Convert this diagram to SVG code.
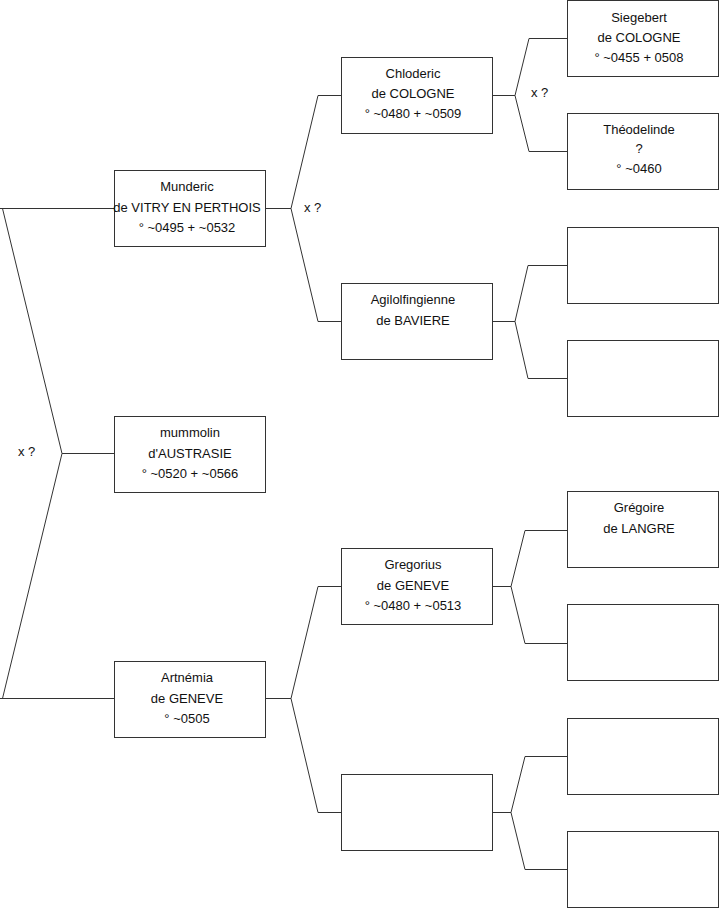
<svg xmlns="http://www.w3.org/2000/svg" width="719" height="908" viewBox="0 0 719 908">
<style>
.box{fill:#fff;stroke:#333;stroke-width:1}
.ln{fill:none;stroke:#333;stroke-width:1}
text{font-family:"Liberation Sans",Arial,sans-serif;font-size:13px;fill:#111}
.c{text-anchor:middle}
</style>
<rect width="719" height="908" fill="#fff"/>
<g id="connectors">
<path class="ln" d="M0,208.5H114 M2.5,208.5L62,453.5L2.5,698.5 M62,453.5H114 M0,698.5H114"/>
<path class="ln" d="M265,208.5H291 M341,95.5H318L291,208.5L318,321.5H341"/>
<path class="ln" d="M265,698.5H291 M341,586.5H318L291,698.5L318,812.5H341"/>
<path class="ln" d="M492,95.5H515 M567,38.5H529L515,95.5L529,151.5H567"/>
<path class="ln" d="M492,321.5H515 M567,265.5H528L515,321.5L528,378.5H567"/>
<path class="ln" d="M492,586.5H511 M567,530.5H525L511,586.5L525,643.5H567"/>
<path class="ln" d="M492,812.5H511 M567,756.5H525L511,812.5L525,869.5H567"/>
<text x="18" y="455.5">x ?</text>
<text x="304" y="211.5">x ?</text>
<text x="531" y="96.5">x ?</text>
</g>
<g id="munderic"><rect class="box" x="114.5" y="170.5" width="151" height="76"/>
<text class="c" x="187" y="191">Munderic</text><text class="c" x="187" y="211.5">de VITRY EN PERTHOIS</text><text class="c" x="187" y="232">° ~0495 + ~0532</text></g>
<g id="mummolin"><rect class="box" x="114.5" y="416.5" width="151" height="76"/>
<text class="c" x="190" y="437">mummolin</text><text class="c" x="190" y="457.5">d'AUSTRASIE</text><text class="c" x="190" y="478">° ~0520 + ~0566</text></g>
<g id="artnemia"><rect class="box" x="114.5" y="661.5" width="151" height="76"/>
<text class="c" x="187" y="682">Artnémia</text><text class="c" x="187" y="702.5">de GENEVE</text><text class="c" x="187" y="723">° ~0505</text></g>
<g id="chloderic"><rect class="box" x="341.5" y="57.5" width="151" height="76"/>
<text class="c" x="413" y="77.5">Chloderic</text><text class="c" x="413" y="97.5">de COLOGNE</text><text class="c" x="413" y="118">° ~0480 + ~0509</text></g>
<g id="agilolfingienne"><rect class="box" x="341.5" y="283.5" width="151" height="76"/>
<text class="c" x="413" y="304">Agilolfingienne</text><text class="c" x="413" y="324.5">de BAVIERE</text></g>
<g id="gregorius"><rect class="box" x="341.5" y="548.5" width="151" height="76"/>
<text class="c" x="413" y="569">Gregorius</text><text class="c" x="413" y="589.5">de GENEVE</text><text class="c" x="413" y="610">° ~0480 + ~0513</text></g>
<g id="empty2"><rect class="box" x="341.5" y="774.5" width="151" height="76"/></g>
<g id="siegebert"><rect class="box" x="567.5" y="0.5" width="151" height="76"/>
<text class="c" x="639" y="21.5">Siegebert</text><text class="c" x="639" y="41.5">de COLOGNE</text><text class="c" x="639" y="61.5">° ~0455 + 0508</text></g>
<g id="theodelinde"><rect class="box" x="567.5" y="113.5" width="151" height="76"/>
<text class="c" x="639" y="133.5">Théodelinde</text><text class="c" x="639" y="153">?</text><text class="c" x="639" y="173">° ~0460</text></g>
<g id="empty3a"><rect class="box" x="567.5" y="227.5" width="151" height="76"/></g>
<g id="empty3b"><rect class="box" x="567.5" y="340.5" width="151" height="76"/></g>
<g id="gregoire"><rect class="box" x="567.5" y="491.5" width="151" height="76"/>
<text class="c" x="639" y="512">Grégoire</text><text class="c" x="639" y="532.5">de LANGRE</text></g>
<g id="empty3c"><rect class="box" x="567.5" y="604.5" width="151" height="76"/></g>
<g id="empty3d"><rect class="box" x="567.5" y="718.5" width="151" height="76"/></g>
<g id="empty3e"><rect class="box" x="567.5" y="831.5" width="151" height="76"/></g>
</svg>
